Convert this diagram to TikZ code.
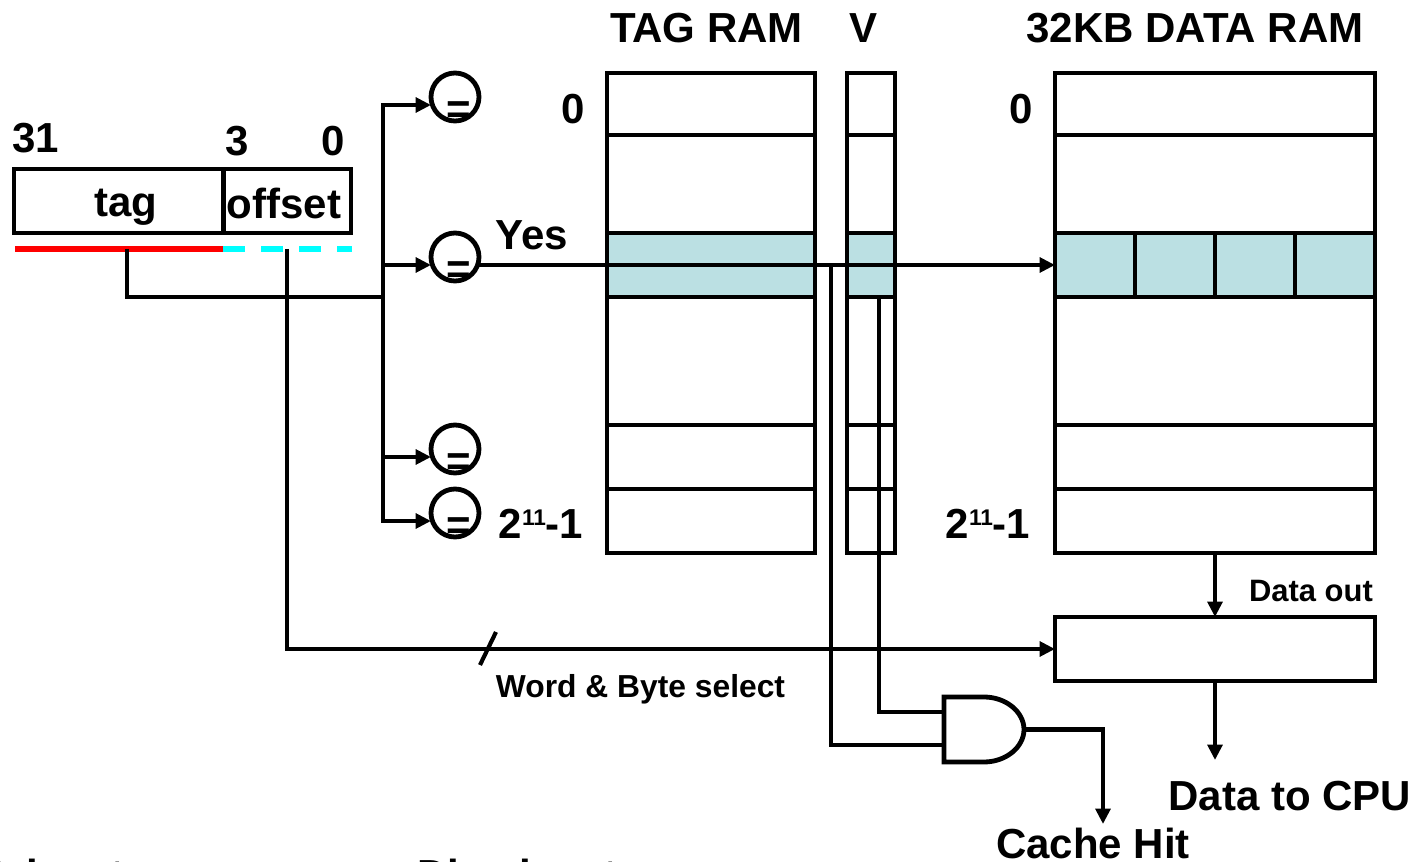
\documentclass[tikz,border=0pt]{standalone}
\usepackage{fontspec}
\setmainfont{Liberation Sans}
\usetikzlibrary{arrows.meta,calc}
\definecolor{band}{HTML}{BBE0E3}
\definecolor{redbar}{HTML}{FF0000}
\definecolor{cyanbar}{HTML}{00FFFF}
\newcommand{\fontL}{\fontsize{31.5}{36}\selectfont\bfseries}
\newcommand{\fontS}{\fontsize{23.2}{27}\selectfont\bfseries}
\newcommand{\fontW}{\fontsize{23.85}{27}\selectfont\bfseries}
\newcommand{\supnum}[1]{\raisebox{9.75pt}{\fontsize{17}{20}\selectfont\bfseries #1}}
\tikzset{
  wire/.style={line width=3.1pt,line cap=butt,line join=miter},
  arrowed/.style={wire,-{Triangle[length=11.5pt,width=11pt]}},
  cell/.style={draw,line width=3.6pt,inner sep=0pt,outer sep=0pt},
  hot/.style={cell,fill=band},
  cmp/.style={circle,draw,line width=3.6pt,minimum size=36pt,inner sep=0pt,outer sep=0pt},
  big/.style={inner sep=0pt,outer sep=0pt,font=\fontL,anchor=base},
  small/.style={inner sep=0pt,outer sep=0pt,font=\fontS,anchor=base},
  eqsign/.style={inner sep=0pt,outer sep=0pt,font=\fontL,anchor=base},
}
\begin{document}
\begin{tikzpicture}[x=0.75pt,y=-0.75pt]
\useasboundingbox (0,0) rectangle (1414,862);
% address word
\node[cell,minimum width=157.5pt,minimum height=48pt] (atag) at (119,201) {};
\node[cell,minimum width=96pt,minimum height=48pt] (aoff) at (287,201) {};
\coordinate (barA) at (15,249);
\coordinate (barB) at (223,249);
\coordinate (barC) at (352,249);
\draw[redbar,line width=4.5pt] (barA) -- (barB);
\draw[cyanbar,line width=4.5pt,dash pattern=on 16.5pt off 12pt] (barB) -- (barC);
\node[big] (n31) at (36,153) {31};
\node[big] (n3) at (237,156) {3};
\node[big] (n0) at (333,156) {0};
\node[big] (ltag) at (126,217) {tag};
\node[big] (loff) at (284,219) {offset};
% memories
\foreach \nm/\a/\b in {0/73/135,1/135/233,3/297/425,4/425/489,5/489/553}{
  \node[cell,minimum width=156pt,minimum height={(\b-\a)*0.75pt}] (t\nm) at (711,{(\a+\b)/2}) {};
  \node[cell,minimum width=36pt,minimum height={(\b-\a)*0.75pt}] (v\nm) at (871,{(\a+\b)/2}) {};
  \node[cell,minimum width=240pt,minimum height={(\b-\a)*0.75pt}] (d\nm) at (1215,{(\a+\b)/2}) {};
}
\node[hot,minimum width=156pt,minimum height=48pt] (t2) at (711,265) {};
\node[hot,minimum width=36pt,minimum height=48pt] (v2) at (871,265) {};
\foreach \i/\cx in {1/1095,2/1175,3/1255,4/1335}{
  \node[hot,minimum width=60pt,minimum height=48pt] (s\i) at (\cx,265) {};
}
\node[cell,minimum width=240pt,minimum height=48pt] (mux) at (1215,649) {};
% comparators
\node[cmp] (c1) at (455,97) {};
\node[cmp] (c2) at (455,257) {};
\node[cmp] (c3) at (455,449) {};
\node[cmp] (c4) at (455,513) {};
\node[eqsign] (e1) at (459,124) {=};
\node[eqsign] (e2) at (459,284) {=};
\node[eqsign] (e3) at (459,476) {=};
\node[eqsign] (e4) at (459,540) {=};
% tag bus
\coordinate (tagtap) at (127,249);
\coordinate (bus) at (383,297);
\coordinate (bus1) at (383,105);
\coordinate (bus2) at (383,265);
\coordinate (bus3) at (383,457);
\coordinate (bus4) at (383,521);
\draw[wire] (tagtap) |- (bus);
\draw[wire] (bus1) -- (bus4);
\draw[arrowed] ($(bus1)+(-2,0)$) -- (c1.west |- bus1);
\draw[arrowed] (bus2) -- (c2.west |- bus2);
\draw[arrowed] (bus3) -- (c3.west |- bus3);
\draw[arrowed] ($(bus4)+(-2,0)$) -- (c4.west |- bus4);
% hit line through the rows
\coordinate (hitline) at (c2.east |- s1.west);
\draw[arrowed] (hitline) -- (s1.west);
% offset wire
\coordinate (offtap) at (287,249);
\draw[arrowed] (offtap) |- (mux.west);
\coordinate (slashA) at (480,665);
\coordinate (slashB) at (496,632);
\draw[wire] (slashA) -- (slashB);
% data path
\draw[arrowed] (d5.south) -- (mux.north);
\coordinate (cpu) at (1215,760);
\draw[arrowed] (mux.south) -- (cpu);
% AND gate
\coordinate (andA) at (944,712);
\coordinate (andB) at (944,745);
\coordinate (andO) at (1024,729.5);
\draw[cell,fill=white] (944,697) -- (984,697) .. controls (1006,697) and (1024,712) .. (andO) .. controls (1024,747) and (1006,762) .. (984,762) -- (944,762) -- cycle;
\coordinate (tagtapv) at (831,265);
\coordinate (vtap) at (879,297);
\draw[wire] (tagtapv) |- (andB);
\draw[wire] (vtap) |- (andA);
\coordinate (hit) at (1103,824);
\draw[arrowed] (andO) -| (hit);
% labels
\node[big] (ttag) at (706.5,43) {TAG RAM};
\node[big] (tv) at (863,43) {V};
\node[big] (tdata) at (1195,43) {32KB DATA RAM};
\node[big] (z1) at (573,124) {0};
\node[big] (z2) at (1021,124) {0};
\node[big] (yes) at (532,250) {Yes};
\node[big] (m1) at (541,539) {2\supnum{11}-1};
\node[big] (m2) at (988,539) {2\supnum{11}-1};
\node[small] (dout) at (1311,601) {Data out};
\node[small,font=\fontW] (wb) at (640.5,697) {Word \& Byte select};
\node[big] (dcpu) at (1290,810) {Data to CPU};
\node[big] (chit) at (1093,858) {Cache Hit};
\node[big,anchor=base west] (adv) at (-18,889) {Advantages};
\node[big,anchor=base west] (dis) at (417,889) {Disadvantages};
\end{tikzpicture}
\end{document}
